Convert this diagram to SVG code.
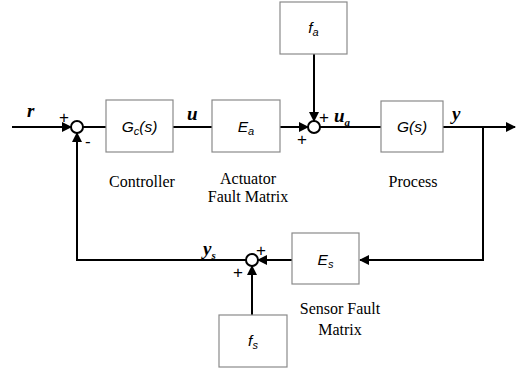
<svg xmlns="http://www.w3.org/2000/svg" width="516" height="373" viewBox="0 0 516 373">
<style>
.box{fill:#fff;stroke:#8a8a8a;stroke-width:1.2}
.ln{fill:none;stroke:#000;stroke-width:2}
.sum{fill:#fff;stroke:#000;stroke-width:2}
.bt{font-family:"Liberation Sans",Arial,sans-serif;font-style:italic;font-size:15.5px;text-anchor:middle}
.sub{font-size:11px}
.cap{font-family:"Liberation Serif","Times New Roman",serif;font-size:16px;text-anchor:middle}
.sig{font-family:"Liberation Serif","Times New Roman",serif;font-style:italic;font-weight:bold;font-size:19px}
.pm{font-family:"Liberation Sans",Arial,sans-serif;font-size:17px}
</style>
<defs>
<marker id="ah" markerWidth="10" markerHeight="10" refX="9" refY="5" orient="auto" markerUnits="userSpaceOnUse">
<path d="M0,0 L10,5 L0,10 Z" fill="#000"/>
</marker>
</defs>
<g id="connectors">
<line class="ln" x1="12" y1="127" x2="71" y2="127" marker-end="url(#ah)"/>
<line class="ln" x1="83" y1="127" x2="106" y2="127"/>
<line class="ln" x1="173" y1="127" x2="212" y2="127"/>
<line class="ln" x1="280" y1="127" x2="308" y2="127" marker-end="url(#ah)"/>
<line class="ln" x1="314" y1="54" x2="314" y2="121" marker-end="url(#ah)"/>
<line class="ln" x1="320" y1="127" x2="381" y2="127"/>
<line class="ln" x1="443" y1="127" x2="515" y2="127" marker-end="url(#ah)"/>
<polyline class="ln" points="483,127 483,260 360,260" marker-end="url(#ah)"/>
<line class="ln" x1="292" y1="260" x2="258" y2="260" marker-end="url(#ah)"/>
<line class="ln" x1="252" y1="315" x2="252" y2="266" marker-end="url(#ah)"/>
<polyline class="ln" points="246,260 77,260 77,133" marker-end="url(#ah)"/>
</g>
<g id="sum1"><circle class="sum" cx="77" cy="127" r="6"/>
<text class="pm" x="59" y="123">+</text><text class="pm" x="85" y="147">-</text></g>
<g id="sum2"><circle class="sum" cx="314" cy="127" r="6"/>
<text class="pm" x="319" y="123">+</text><text class="pm" x="297" y="145">+</text></g>
<g id="sum3"><circle class="sum" cx="252" cy="260" r="6"/>
<text class="pm" x="256" y="256">+</text><text class="pm" x="233" y="278">+</text></g>
<g id="Gc"><rect class="box" x="106" y="100" width="67" height="52"/>
<text class="bt" x="139.5" y="132">G<tspan class="sub" dy="3">c</tspan><tspan dy="-3">(s)</tspan></text>
<text class="cap" x="142" y="187">Controller</text></g>
<g id="Ea"><rect class="box" x="212" y="100" width="68" height="52"/>
<text class="bt" x="246" y="132">E<tspan class="sub" dy="3">a</tspan></text>
<text class="cap" x="248" y="184">Actuator</text><text class="cap" x="248" y="202">Fault Matrix</text></g>
<g id="fa"><rect class="box" x="280" y="2" width="67" height="52"/>
<text class="bt" x="313.5" y="33">f<tspan class="sub" dy="3">a</tspan></text></g>
<g id="G"><rect class="box" x="381" y="101" width="62" height="51"/>
<text class="bt" x="412" y="132">G(s)</text>
<text class="cap" x="413" y="187">Process</text></g>
<g id="Es"><rect class="box" x="292" y="233" width="67" height="51"/>
<text class="bt" x="325.5" y="265">E<tspan class="sub" dy="3">s</tspan></text>
<text class="cap" x="340" y="314">Sensor Fault</text><text class="cap" x="340" y="335">Matrix</text></g>
<g id="fs"><rect class="box" x="219" y="315" width="68" height="52"/>
<text class="bt" x="253" y="346">f<tspan class="sub" dy="3">s</tspan></text></g>
<g id="labels">
<text class="sig" x="27" y="117">r</text>
<text class="sig" x="187" y="120">u</text>
<text class="sig" x="334" y="122">u<tspan class="sub" dy="4">a</tspan></text>
<text class="sig" x="452" y="120">y</text>
<text class="sig" x="203" y="255">y<tspan class="sub" dy="4">s</tspan></text>
</g>
</svg>
